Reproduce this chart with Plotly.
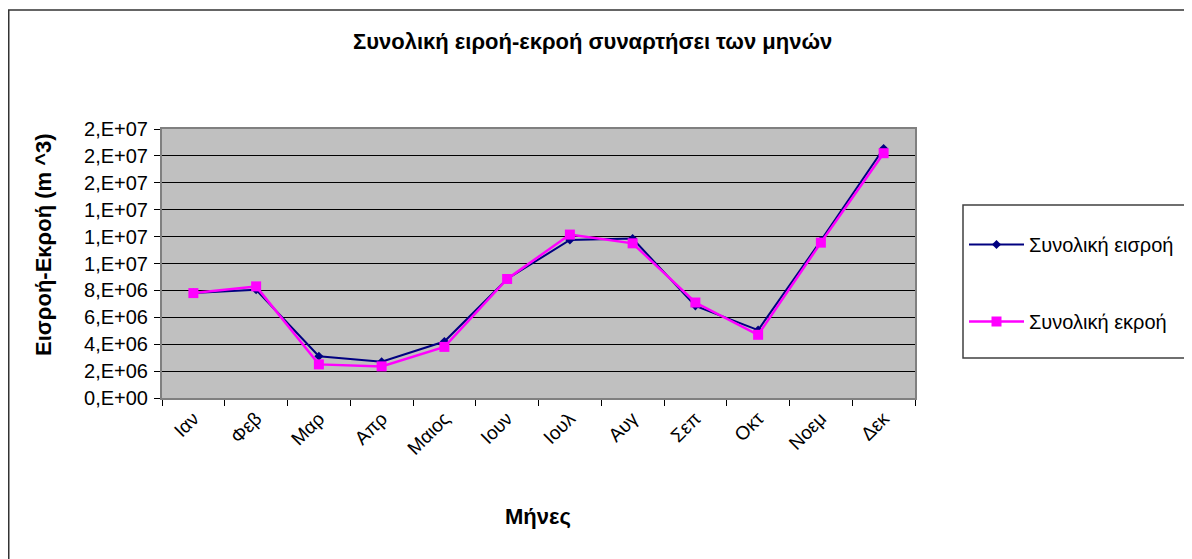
import plotly.graph_objects as go

months = ["Ιαν", "Φεβ", "Μαρ", "Απρ", "Μαιος", "Ιουν", "Ιουλ", "Αυγ", "Σεπ", "Οκτ", "Νοεμ", "Δεκ"]
inflow = [7.8e6, 8.05e6, 3.1e6, 2.7e6, 4.2e6, 8.85e6, 11.75e6, 11.85e6, 6.85e6, 5.05e6, 11.7e6, 18.55e6]
outflow = [7.8e6, 8.3e6, 2.5e6, 2.35e6, 3.8e6, 8.85e6, 12.15e6, 11.5e6, 7.1e6, 4.7e6, 11.55e6, 18.2e6]
ytick_vals = [0, 2e6, 4e6, 6e6, 8e6, 10e6, 12e6, 14e6, 16e6, 18e6, 20e6]
ytick_text = ["0,E+00", "2,E+06", "4,E+06", "6,E+06", "8,E+06", "1,E+07", "1,E+07", "1,E+07", "2,E+07", "2,E+07", "2,E+07"]

title_text = "Συνολική ειροή-εκροή συναρτήσει των μηνών"
x_title = "Μήνες"
y_title = "Εισροή-Εκροή (m ^3)"
names = ["Συνολική εισροή", "Συνολική εκροή"]

# page offset caused by the default body margin
OFF = 8
W, H = 1192 - OFF, 559 - OFF
# desired plot area in page pixels
PX0, PX1, PY0, PY1 = 162, 915, 129, 398
L, T = PX0 - OFF, PY0 - OFF
R, B = W - (PX1 - OFF), H - (PY1 - OFF)
pw, ph = PX1 - PX0, PY1 - PY0

def px_x(x):
    return (x - PX0) / pw

def px_y(y):
    return (PY1 - y) / ph

FONT = "Liberation Sans, Arial, sans-serif"

fig = go.Figure()
fig.add_trace(go.Scatter(
    x=months, y=inflow, name=names[0], mode="lines+markers",
    line=dict(color="#000080", width=2),
    marker=dict(symbol="diamond", size=7, color="#000080"),
    legendgroup="a",
))
fig.add_trace(go.Scatter(
    x=months, y=outflow, name=names[1], mode="lines+markers",
    line=dict(color="#FF00FF", width=2.5),
    marker=dict(symbol="square", size=10, color="#FF00FF"),
    legendgroup="b",
))

fig.update_layout(
    width=W, height=H,
    margin=dict(l=L, r=R, t=T, b=B),
    paper_bgcolor="white",
    plot_bgcolor="#C0C0C0",
    font=dict(family=FONT, color="black"),
    showlegend=True,
    legend=dict(
        x=px_x(964), y=px_y(225), xanchor="left", yanchor="top",
        bgcolor="rgba(0,0,0,0)", borderwidth=0,
        font=dict(size=20, family=FONT),
        tracegroupgap=48, itemwidth=55,
    ),
)

fig.update_xaxes(
    type="category", range=[-0.5, 11.5],
    showgrid=False, tickson="boundaries", ticks="outside", ticklen=6, tickcolor="black",
    tickangle=-45, tickfont=dict(size=19, family=FONT),
    showline=True, linecolor="#808080", linewidth=2, mirror=True,
)
fig.update_yaxes(
    range=[0, 20e6], tickvals=ytick_vals, ticktext=ytick_text,
    showgrid=True, gridcolor="black", gridwidth=1,
    ticks="outside", ticklen=6, tickcolor="black",
    tickfont=dict(size=20, family=FONT), ticklabelstandoff=2,
    showline=True, linecolor="#808080", linewidth=2, mirror=True,
    zeroline=False,
)

fig.add_annotation(text="<b>" + title_text + "</b>", xref="paper", yref="paper",
                   x=px_x(592), y=px_y(42), showarrow=False,
                   font=dict(size=22, family=FONT), xanchor="center", yanchor="middle")
fig.add_annotation(text="<b>" + x_title + "</b>", xref="paper", yref="paper",
                   x=px_x(538), y=px_y(516), showarrow=False,
                   font=dict(size=22, family=FONT), xanchor="center", yanchor="middle")
fig.add_annotation(text="<b>" + y_title + "</b>", xref="paper", yref="paper",
                   x=px_x(43), y=px_y(245), showarrow=False, textangle=-90,
                   font=dict(size=22, family=FONT), xanchor="center", yanchor="middle")

# legend box
fig.add_shape(type="rect", xref="paper", yref="paper",
              x0=px_x(963), x1=px_x(1185), y0=px_y(358), y1=px_y(205),
              line=dict(color="#404040", width=1.5), fillcolor="rgba(0,0,0,0)")
# outer chart border (left and top edges visible)
fig.add_shape(type="rect", xref="paper", yref="paper",
              x0=px_x(8.75), x1=px_x(1230), y0=px_y(600), y1=px_y(10),
              line=dict(color="#333333", width=1.5), fillcolor="rgba(0,0,0,0)")

fig.write_html("out.html")
